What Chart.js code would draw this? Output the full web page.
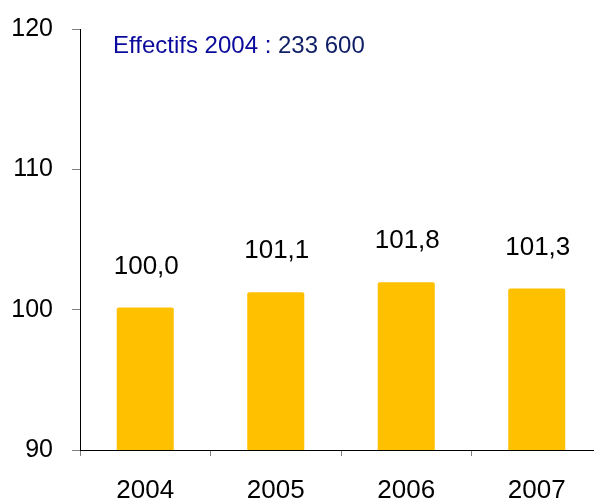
<!DOCTYPE html>
<html>
<head>
<meta charset="utf-8">
<script src="https://cdn.jsdelivr.net/npm/chart.js@4/dist/chart.umd.min.js"></script>
<style>
  html, body { margin: 0; padding: 0; background: #fff; overflow: hidden; width: 594px; height: 499px; }
  #wrap { position: relative; width: 602px; height: 499px; }
</style>
</head>
<body>
<div id="wrap"><canvas id="c"></canvas></div>
<script>
// ---- Data ----
const categories = ['2004', '2005', '2006', '2007'];
const barValues = [100.15, 101.25, 101.95, 101.5];
const valueLabels = ['100,0', '101,1', '101,8', '101,3'];
const yTicks = [90, 100, 110, 120];
const noteMain = 'Effectifs 2004 : ';
const noteValue = '233 600';

const FONT = "'Liberation Sans', Arial, sans-serif";

const overlayPlugin = {
  id: 'overlay',
  afterDatasetsDraw(chart) {
    const ctx = chart.ctx;
    const area = chart.chartArea;
    ctx.save();
    ctx.strokeStyle = '#000';
    ctx.lineWidth = 1;
    ctx.beginPath();
    ctx.moveTo(area.left, Math.round(area.bottom) + 0.5);
    ctx.lineTo(area.right, Math.round(area.bottom) + 0.5);
    ctx.stroke();
    ctx.fillStyle = '#000';
    ctx.font = '26px ' + FONT;
    ctx.textAlign = 'center';
    ctx.textBaseline = 'alphabetic';
    const meta = chart.getDatasetMeta(0);
    meta.data.forEach((bar, i) => {
      ctx.fillText(valueLabels[i], bar.x + 1, bar.y - 34);
    });
    ctx.textAlign = 'left';
    ctx.font = '24px ' + FONT;
    ctx.fillStyle = '#0A0A9C';
    ctx.fillText(noteMain, 113, 53);
    const w = ctx.measureText(noteMain).width;
    ctx.fillStyle = '#0F1F66';
    ctx.fillText(noteValue, 113 + w, 53);
    ctx.restore();
  }
};

new Chart(document.getElementById('c'), {
  type: 'bar',
  data: {
    labels: categories,
    datasets: [{
      data: barValues,
      backgroundColor: '#FFC000',
      borderWidth: 0,
      borderRadius: 2,
      borderSkipped: 'start',
      barPercentage: 0.437,
      categoryPercentage: 1.0
    }]
  },
  options: {
    responsive: true,
    maintainAspectRatio: false,
    animation: false,
    devicePixelRatio: 1,
    layout: { padding: { top: 29, left: 0, right: 0, bottom: 0 } },
    plugins: { legend: { display: false }, tooltip: { enabled: false } },
    scales: {
      x: {
        offset: true,
        grid: { offset: true, drawOnChartArea: false, drawTicks: true, tickLength: 6, color: '#808080' },
        border: { display: true, color: '#000', width: 1 },
        ticks: { color: '#000', font: { family: FONT, size: 26 }, padding: 19, maxRotation: 0 },
        afterFit(scale) { scale.height = 49; scale.paddingLeft = 0; scale.paddingRight = 0; }
      },
      y: {
        min: 90,
        max: 120,
        afterBuildTicks(scale) { scale.ticks = yTicks.map(v => ({ value: v })); },
        grid: { drawOnChartArea: false, drawTicks: true, tickLength: 8, color: '#808080' },
        border: { display: true, color: '#000', width: 1 },
        ticks: { color: '#000', font: { family: FONT, size: 25 }, padding: 19 },
        afterFit(scale) { scale.width = 80; scale.paddingTop = 0; scale.paddingBottom = 0; }
      }
    }
  },
  plugins: [overlayPlugin]
});
</script>
</body>
</html>
